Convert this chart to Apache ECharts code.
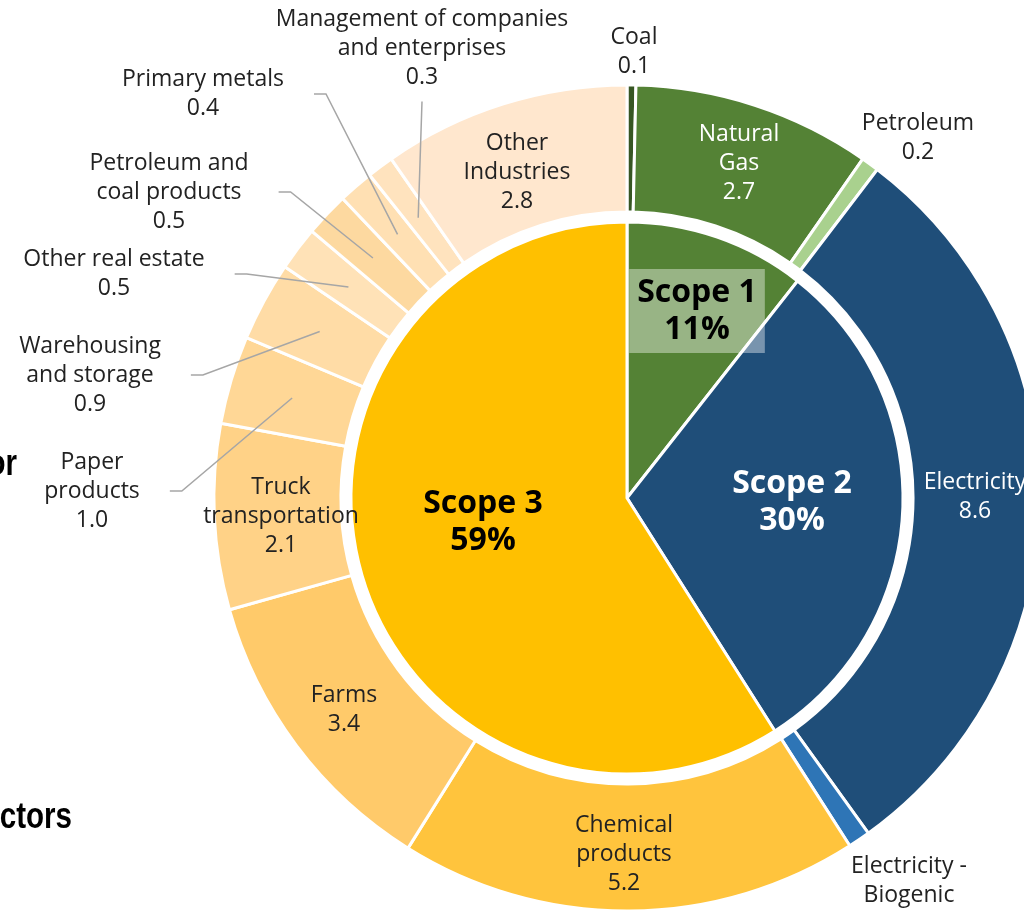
<!DOCTYPE html>
<html>
<head>
<meta charset="utf-8">
<title>Emissions by scope</title>
<script src="https://cdn.jsdelivr.net/npm/echarts@6/dist/echarts.min.js"></script>
<style>
html, body { margin: 0; padding: 0; background: #fff; }
#chart { width: 1024px; height: 912px; }
</style>
</head>
<body>
<div id="chart"></div>
<script>
// inner ring: share of each scope, %
var scopeNames = ['Scope 1', 'Scope 2', 'Scope 3'];
var scopeShares = [10.6, 30.4, 59.0];

// outer ring: emissions by source / sector
var sourceNames = ['Coal', 'Natural\nGas', 'Petroleum', 'Electricity', 'Electricity -\nBiogenic',
    'Chemical\nproducts', 'Farms', 'Truck\ntransportation', 'Paper\nproducts', 'Warehousing\nand storage',
    'Other real estate', 'Petroleum and\ncoal products', 'Primary metals',
    'Management of companies\nand enterprises', 'Other\nIndustries'];
var sourceValues = [0.1, 2.7, 0.2, 8.6, 0.25, 5.2, 3.4, 2.1, 1.0, 0.9, 0.5, 0.5, 0.4, 0.3, 2.8];

var scopeColors = ['#548235', '#1F4E79', '#FFC000'];
var sourceColors = ['#375623', '#548235', '#A9D18E', '#1F4E79', '#2E75B6',
    '#FFC43D', '#FFCA6A', '#FFD287', '#FFD796', '#FFDCA6',
    '#FFE2B7', '#FDD9A0', '#FFE0B3', '#FFE3BE', '#FFE7CE'];

var cx = 627, cy = 498;
var innerR = 276, ringR0 = 286, ringR = 413;
var midR = (ringR0 + ringR) / 2;

// labels that sit outside the ring
var outsideNames = ['Coal', 'Petroleum', 'Electricity -\nBiogenic', 'Paper\nproducts',
    'Warehousing\nand storage', 'Other real estate', 'Petroleum and\ncoal products',
    'Primary metals', 'Management of companies\nand enterprises'];
// hand-placed label centres
var labelSpots = {
    'Coal': [634, 52],
    'Petroleum': [918, 138],
    'Electricity -\nBiogenic': [909, 895],
    'Paper\nproducts': [92, 491],
    'Warehousing\nand storage': [90, 375],
    'Other real estate': [114, 274],
    'Petroleum and\ncoal products': [169, 192],
    'Primary metals': [203, 94],
    'Management of companies\nand enterprises': [422, 48],
    'Other\nIndustries': [517, 172],
    'Natural\nGas': [739, 163],
    'Electricity': [975, 497],
    'Chemical\nproducts': [624, 854],
    'Truck\ntransportation': [281, 516],
    'Farms': [344, 710]
};
var leaderNames = ['Paper\nproducts', 'Warehousing\nand storage', 'Other real estate',
    'Petroleum and\ncoal products', 'Primary metals', 'Management of companies\nand enterprises'];
var whiteText = ['Natural\nGas', 'Electricity'];
var scopeSpots = { 'Scope 1': [697, 311], 'Scope 2': [792, 502], 'Scope 3': [483, 522] };
var scopeText = ['#000', '#fff', '#000'];

var total = 0;
for (var t = 0; t < sourceValues.length; t++) total += sourceValues[t];

// point in the middle of a ring slice (angle measured clockwise from 12 o'clock)
function sliceMid(idx) {
    var cum = 0;
    for (var k = 0; k < idx; k++) cum += sourceValues[k];
    var a = (cum + sourceValues[idx] / 2) / total * 2 * Math.PI;
    return [cx + midR * Math.sin(a), cy - midR * Math.cos(a)];
}

// coloured ring (no labels)
var ringData = [];
// transparent copy on top that carries the labels and leader lines
var ringLabelData = [];
for (var i = 0; i < sourceNames.length; i++) {
    var nm = sourceNames[i];
    ringData.push({ name: nm, value: sourceValues[i], itemStyle: { color: sourceColors[i] } });
    ringLabelData.push({
        name: nm,
        value: sourceValues[i],
        label: {
            position: outsideNames.indexOf(nm) >= 0 ? 'outside' : 'inside',
            color: whiteText.indexOf(nm) >= 0 ? '#fff' : '#222'
        },
        labelLine: { show: leaderNames.indexOf(nm) >= 0 }
    });
}

var scopeData = [];
for (var j = 0; j < scopeNames.length; j++) {
    var lab = { color: scopeText[j] };
    if (j == 0) {
        lab.backgroundColor = 'rgba(255,255,255,0.4)';
        lab.padding = [5, 8];
    }
    scopeData.push({
        name: scopeNames[j],
        value: scopeShares[j],
        itemStyle: { color: scopeColors[j] },
        label: lab
    });
}

var myChart = echarts.init(document.getElementById('chart'), null, { renderer: 'canvas' });

var fragFont = { fontFamily: 'Liberation Sans', fontWeight: 'bold', fontSize: 36, fill: '#000', align: 'right', verticalAlign: 'middle' };

var option = {
    animation: false,
    backgroundColor: '#fff',
    textStyle: { fontFamily: 'Open Sans' },
    graphic: [
        { type: 'text', x: 17, y: 465, scaleX: 0.82, style: echarts.util.extend({ text: 'or' }, fragFont) },
        { type: 'text', x: 72, y: 818, scaleX: 0.82, style: echarts.util.extend({ text: 'ctors' }, fragFont) }
    ],
    series: [
        {
            name: 'Scope',
            type: 'pie',
            silent: true,
            z: 2,
            center: [cx, cy],
            radius: [0, innerR],
            startAngle: 90,
            itemStyle: { borderColor: '#fff', borderWidth: 3 },
            label: {
                show: true,
                position: 'inside',
                fontSize: 32,
                fontWeight: 'bold',
                lineHeight: 37,
                formatter: function (p) {
                    return p.name + '\n' + Math.round(p.value) + '%';
                }
            },
            labelLine: { show: false },
            labelLayout: function (p) {
                var s = scopeSpots[scopeNames[p.dataIndex]];
                return { x: s[0], y: s[1], align: 'center', verticalAlign: 'middle' };
            },
            data: scopeData
        },
        {
            name: 'Source',
            type: 'pie',
            silent: true,
            z: 2,
            center: [cx, cy],
            radius: [ringR0, ringR],
            startAngle: 90,
            itemStyle: { borderColor: '#fff', borderWidth: 3 },
            label: { show: false },
            labelLine: { show: false },
            data: ringData
        },
        {
            name: 'Source labels',
            type: 'pie',
            silent: true,
            z: 3,
            center: [cx, cy],
            radius: [ringR0, ringR],
            startAngle: 90,
            avoidLabelOverlap: false,
            itemStyle: { color: 'rgba(0,0,0,0)', borderWidth: 0 },
            label: {
                show: true,
                fontSize: 23,
                lineHeight: 29,
                align: 'center',
                overflow: 'none',
                formatter: function (p) {
                    return p.name + '\n' + p.value.toFixed(1);
                }
            },
            labelLine: {
                show: true,
                lineStyle: { color: '#A6A6A6', width: 1.5 }
            },
            labelLayout: function (p) {
                var name = sourceNames[p.dataIndex];
                var spot = labelSpots[name];
                if (!spot) return {};
                var res = { x: spot[0], y: spot[1], align: 'center', verticalAlign: 'middle' };
                if (leaderNames.indexOf(name) >= 0) {
                    var start = sliceMid(p.dataIndex);
                    if (name.indexOf('Management') == 0) {
                        var top = [spot[0], spot[1] + p.labelRect.height / 2 + 10];
                        res.labelLinePoints = [start, [(start[0] + top[0]) / 2, (start[1] + top[1]) / 2], top];
                    } else {
                        var edge = spot[0] + p.labelRect.width / 2 + 30;
                        res.labelLinePoints = [start, [edge + 12, spot[1]], [edge, spot[1]]];
                    }
                }
                return res;
            },
            data: ringLabelData
        }
    ]
};

myChart.setOption(option);
</script>
</body>
</html>
